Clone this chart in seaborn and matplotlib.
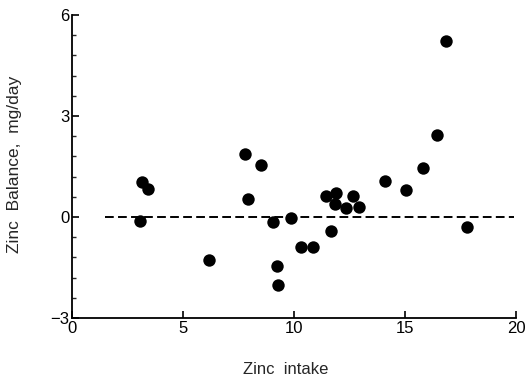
import numpy as np
import pandas as pd
import matplotlib
matplotlib.use("Agg")
import matplotlib.pyplot as plt
import seaborn as sns
from matplotlib.ticker import MultipleLocator

zinc_intake = [3.06, 3.14, 3.44, 6.17, 7.79, 7.94, 8.51, 9.04, 9.25, 9.26,
               9.85, 10.33, 10.87, 11.43, 11.68, 11.88, 11.86, 12.34, 12.67,
               12.93, 14.08, 15.05, 15.83, 16.43, 16.85, 17.81]
zinc_balance = [-0.12, 1.03, 0.84, -1.27, 1.86, 0.54, 1.55, -0.14, -1.47, -2.01,
                -0.02, -0.88, -0.90, 0.63, -0.41, 0.70, 0.40, 0.27, 0.63,
                0.31, 1.08, 0.81, 1.45, 2.43, 5.23, -0.31]
ref_x = [1.5, 19.9]
ref_y = [0, 0]
x_ticks = [0, 5, 10, 15, 20]
y_ticks = [-3, 0, 3, 6]

df = pd.DataFrame({"intake": zinc_intake, "balance": zinc_balance})

sns.set_style("ticks")
plt.rcParams['font.family'] = ['Liberation Sans', 'DejaVu Sans']

fig = plt.figure(figsize=(5.28, 3.82), dpi=100)
ax = fig.add_axes([72/528, 1-318/382, (516-72)/528, (318-15)/382])

ax.plot(ref_x, ref_y, color="black", linestyle=(0, (4.5, 2.2)), linewidth=1.4, zorder=1)
sns.scatterplot(data=df, x="intake", y="balance", ax=ax, color="black",
                s=80, edgecolor="black", linewidth=0, zorder=3, legend=False)

ax.set_xlim(0, 20)
ax.set_ylim(-3, 6)
ax.set_xticks(x_ticks)
ax.set_yticks(y_ticks)
ax.set_xticklabels([str(t) for t in x_ticks])
ax.set_yticklabels([("\u2212" + str(-t)) if t < 0 else str(t) for t in y_ticks])
ax.yaxis.set_minor_locator(MultipleLocator(0.6))
ax.tick_params(axis="both", which="major", direction="in", length=5, width=1.2,
               labelsize=12, pad=2, colors="black")
ax.tick_params(axis="y", which="minor", direction="in", length=3, width=1.0)
sns.despine(ax=ax)
for sp in ("left", "bottom"):
    ax.spines[sp].set_linewidth(1.3)
    ax.spines[sp].set_color("black")

ax.set_xlabel("Zinc  intake", fontsize=12)
ax.set_ylabel("Zinc  Balance,  mg/day", fontsize=12.5)
ax.xaxis.set_label_coords((286-72)/444, -(369-318)/303)
ax.yaxis.set_label_coords(-(72-15)/444, (318-164)/303)
ax.xaxis.label.set_va("center")
ax.yaxis.label.set_va("center")

fig.savefig("out.png", dpi=100)
